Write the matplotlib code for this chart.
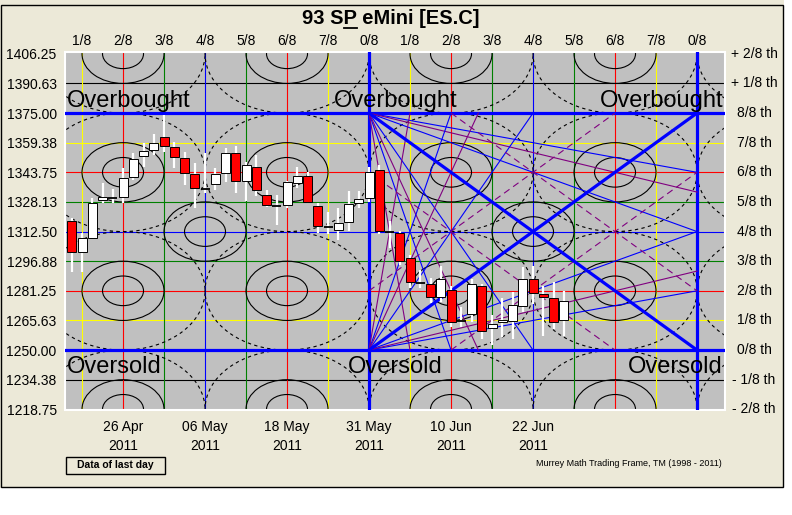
import matplotlib
matplotlib.use("Agg")
import matplotlib.pyplot as plt
from matplotlib.patches import Ellipse, Rectangle
from matplotlib.lines import Line2D

plt.rcParams['font.family'] = ['Liberation Sans', 'DejaVu Sans']

# ---------------- data ----------------
day_index = list(range(-5, 44))
opens = [1318.0, 1301.5, 1309.3, 1329.0, 1330.4, 1330.9, 1341.4, 1352.4, 1355.6, 1362.6,
         1357.3, 1351.5, 1342.8, 1335.0, 1337.7, 1343.3, 1353.8, 1339.0, 1346.8, 1332.0,
         1325.8, 1326.7, 1338.0, 1342.0, 1326.2, 1314.8, 1313.5, 1317.6, 1327.6, 1330.2,
         1345.0, 1312.5, 1312.0, 1298.8, 1285.5, 1284.8, 1277.8, 1281.9, 1265.6, 1268.8,
         1283.8, 1261.6, 1264.7, 1265.6, 1273.1, 1287.5, 1279.6, 1277.7, 1265.8]
highs = [1319.5, 1312.0, 1330.0, 1338.0, 1335.0, 1346.0, 1354.0, 1359.0, 1364.0, 1374.0,
         1360.0, 1354.5, 1348.7, 1354.0, 1346.0, 1356.6, 1357.7, 1349.0, 1353.0, 1334.6,
         1332.0, 1339.0, 1346.6, 1344.0, 1327.7, 1323.0, 1325.0, 1333.7, 1333.7, 1346.6,
         1347.7, 1318.3, 1313.0, 1300.0, 1292.0, 1288.0, 1294.6, 1284.0, 1272.6, 1287.5,
         1284.8, 1268.7, 1277.5, 1280.5, 1293.6, 1294.5, 1283.8, 1286.0, 1280.9]
lows = [1291.0, 1291.0, 1309.0, 1327.7, 1327.5, 1327.7, 1339.8, 1346.6, 1353.0, 1354.7,
        1346.0, 1337.0, 1325.0, 1333.0, 1334.6, 1338.8, 1333.0, 1328.4, 1331.0, 1325.6,
        1316.0, 1325.0, 1335.6, 1327.7, 1312.0, 1311.0, 1308.0, 1312.7, 1325.0, 1328.0,
        1311.0, 1304.0, 1295.0, 1283.0, 1283.0, 1275.0, 1275.2, 1262.0, 1262.0, 1264.7,
        1256.0, 1252.5, 1256.9, 1256.0, 1270.0, 1274.4, 1257.5, 1261.0, 1257.5]
closes = [1301.5, 1309.3, 1327.7, 1330.5, 1330.4, 1340.7, 1350.8, 1355.0, 1359.4, 1357.8,
          1352.0, 1343.3, 1335.4, 1335.0, 1343.0, 1353.8, 1339.0, 1347.7, 1334.2, 1326.7,
          1325.8, 1338.4, 1341.6, 1328.0, 1315.3, 1314.8, 1317.0, 1327.0, 1329.7, 1343.9,
          1312.7, 1312.5, 1297.2, 1285.7, 1285.5, 1277.8, 1287.4, 1264.7, 1265.6, 1284.8,
          1260.3, 1263.9, 1266.1, 1274.0, 1287.5, 1280.2, 1277.8, 1264.6, 1276.0]

date_tick_pos = [0, 8, 16, 24, 32, 40]
date_tick_labels = ["26 Apr\n2011", "06 May\n2011", "18 May\n2011",
                    "31 May\n2011", "10 Jun\n2011", "22 Jun\n2011"]

level_prices = [1406.25, 1390.63, 1375.00, 1359.38, 1343.75, 1328.13, 1312.50,
                1296.88, 1281.25, 1265.63, 1250.00, 1234.38, 1218.75]
level_names = ["+ 2/8 th", "+ 1/8 th", "8/8 th", "7/8 th", "6/8 th", "5/8 th", "4/8 th",
               "3/8 th", "2/8 th", "1/8 th", "0/8 th", "- 1/8 th", "- 2/8 th"]
level_colors = [None, 'black', 'blue', 'yellow', 'red', 'green', 'blue',
                'green', 'red', 'yellow', 'blue', 'black', None]
level_thick = [False, False, True, False, False, False, False,
               False, False, False, True, False, False]

time_lines = [-4, 0, 4, 8, 12, 16, 20, 24, 28, 32, 36, 40, 44, 48, 52, 56]
time_names = ["1/8", "2/8", "3/8", "4/8", "5/8", "6/8", "7/8", "0/8",
              "1/8", "2/8", "3/8", "4/8", "5/8", "6/8", "7/8", "0/8"]
time_colors = ['yellow', 'red', 'green', 'blue', 'green', 'red', 'yellow', 'blue',
               'yellow', 'red', 'green', 'blue', 'green', 'red', 'yellow', 'blue']
time_thick = [False, False, False, False, False, False, False, True,
              False, False, False, False, False, False, False, True]

# Murrey frame geometry
T_UNIT = 4          # trading days per 1/8 of time
P_UNIT = 15.625     # price per 1/8
ring_times = [0, 16, 32, 48, 64]
ring_prices = [1406.25, 1343.75, 1281.25, 1218.75]
mid_ring_times = [8, 40]
mid_ring_price = 1312.5
frame_t0, frame_t1 = 24, 56
frame_p0, frame_p1 = 1250.0, 1375.0
blue_fan_ratios = [1/4, 1/2, 2, 4]
purple_fan_ratios = [1/3, 3, 8]
parallel_offsets = [-2, 2]

# ---------------- figure ----------------
W, H = 792, 515
BEIGE = '#ECE9D8'
fig = plt.figure(figsize=(W/100, H/100), dpi=100, facecolor=BEIGE)

def fx(px):
    return px / W

def fy(py):
    return 1 - py / H

# white margins outside the window frame
fig.patches.append(Rectangle((0, 0), 1, fy(488), transform=fig.transFigure,
                             facecolor='white', edgecolor='none', zorder=-5))
fig.patches.append(Rectangle((fx(784), 0), 1 - fx(784), 1, transform=fig.transFigure,
                             facecolor='white', edgecolor='none', zorder=-5))
fig.patches.append(Rectangle((fx(1), fy(487)), fx(783) - fx(1), fy(5) - fy(487),
                             transform=fig.transFigure, facecolor='none',
                             edgecolor='black', lw=1.0, zorder=-4))

ax = fig.add_axes([fx(65), fy(410), (725 - 65) / W, (410 - 52) / H])
ax.set_zorder(5)
ax.set_facecolor('#C0C0C0')
ax.set_xlim(-5.66, 58.73)
ax.set_ylim(1218.4, 1407.2)
for s in ax.spines.values():
    s.set_color('white')
    s.set_linewidth(1.5)

# grid lines
for p, c, thick in zip(level_prices, level_colors, level_thick):
    if c is None:
        continue
    ax.axhline(p, color=c, lw=2.3 if thick else 0.8, zorder=3 if thick else 2)
for t, c, thick in zip(time_lines, time_colors, time_thick):
    ax.axvline(t, color=c, lw=2.3 if thick else 0.8, zorder=3 if thick else 2)

# ellipses
for t in ring_times:
    for p in ring_prices:
        for r in (0.5, 1.0):
            ax.add_patch(Ellipse((t, p), 2 * r * T_UNIT, 2 * r * P_UNIT, fill=False,
                                 ec='black', lw=0.8, zorder=2.5))
        ax.add_patch(Ellipse((t, p), 4 * T_UNIT, 4 * P_UNIT, fill=False,
                             ec='black', lw=0.8, ls=(0, (3, 3)), zorder=2.5))
for t in mid_ring_times:
    for r in (0.5, 1.0):
        ax.add_patch(Ellipse((t, mid_ring_price), 2 * r * T_UNIT, 2 * r * P_UNIT,
                             fill=False, ec='black', lw=0.8, zorder=2.5))

# fans
span_t = (frame_t1 - frame_t0) / T_UNIT   # 8 units
span_p = (frame_p1 - frame_p0) / P_UNIT   # 8 units

def fan_end(ratio, direction):
    start_p = frame_p1 if direction < 0 else frame_p0
    if ratio * span_t <= span_p:
        et = frame_t1
        ep = start_p + direction * ratio * span_t * P_UNIT
    else:
        et = frame_t0 + span_p / ratio * T_UNIT
        ep = start_p + direction * span_p * P_UNIT
    return (frame_t0, et), (start_p, ep)

for direction in (-1, 1):
    for ratio in blue_fan_ratios:
        xs, ys = fan_end(ratio, direction)
        ax.add_line(Line2D(xs, ys, color='#0000FF', lw=0.8, zorder=3))
    for ratio in purple_fan_ratios:
        xs, ys = fan_end(ratio, direction)
        ax.add_line(Line2D(xs, ys, color='#800080', lw=0.8, zorder=3))
    xs, ys = fan_end(1.0, direction)
    ax.add_line(Line2D(xs, ys, color='#0000FF', lw=2.3, zorder=3.2))

# purple dashed parallels to the main diagonals
for off in parallel_offsets:
    if off > 0:
        xs = (frame_t0, frame_t1 - off * T_UNIT)
        ys = (frame_p0 + off * P_UNIT, frame_p1)
    else:
        xs = (frame_t0 - off * T_UNIT, frame_t1)
        ys = (frame_p0, frame_p1 + off * P_UNIT)
    ax.add_line(Line2D(xs, ys, color='#800080', lw=0.8, ls=(0, (6, 4)), zorder=3))
    if off > 0:
        xs = (frame_t0, frame_t1 - off * T_UNIT)
        ys = (frame_p1 - off * P_UNIT, frame_p0)
    else:
        xs = (frame_t0 - off * T_UNIT, frame_t1)
        ys = (frame_p1, frame_p0 - off * P_UNIT)
    ax.add_line(Line2D(xs, ys, color='#800080', lw=0.8, ls=(0, (6, 4)), zorder=3))

# overbought / oversold labels
ob_kw = dict(fontsize=17, color='black', va='baseline', zorder=4)
ax.text(-5.46, 1378.4, "Overbought", ha='left', **ob_kw)
ax.text(26.6, 1378.4, "Overbought", ha='center', **ob_kw)
ax.text(58.55, 1378.4, "Overbought", ha='right', **ob_kw)
ax.text(-5.46, 1237.9, "Oversold", ha='left', **ob_kw)
ax.text(26.55, 1237.9, "Oversold", ha='center', **ob_kw)
ax.text(58.45, 1237.9, "Oversold", ha='right', **ob_kw)

# candles
BW = 0.88
for i, o, h, l, c in zip(day_index, opens, highs, lows, closes):
    ax.vlines(i, l, h, color='white', lw=1.6, zorder=5)
    if abs(c - o) < 0.3:
        ax.hlines(o, i - BW / 2, i + BW / 2, color='black', lw=1.3, zorder=6)
    else:
        fc = 'white' if c > o else '#FF0000'
        ax.add_patch(Rectangle((i - BW / 2, min(o, c)), BW, abs(c - o), facecolor=fc,
                               edgecolor='black', lw=0.7, zorder=6))

# axes labels
ax.set_yticks(level_prices)
ax.set_yticklabels([f"{p:.2f}" for p in level_prices], fontsize=10)
ax.set_xticks(date_tick_pos)
ax.set_xticklabels(date_tick_labels, fontsize=10, linespacing=1.45)
ax.tick_params(axis='both', length=0)
ax.tick_params(axis='y', pad=6)
ax.tick_params(axis='x', pad=7)

for t, name in zip(time_lines, time_names):
    ax.text(t, 1.031, name, transform=ax.get_xaxis_transform(), ha='center',
            va='center', fontsize=10, clip_on=False)
for p, name in zip(level_prices, level_names):
    ax.text(1.044, p, name, transform=ax.get_yaxis_transform(), ha='center',
            va='center', fontsize=10, clip_on=False)

# title with underlined P
title_kw = dict(fontsize=14.5, fontweight='bold', va='center')
title = fig.text(fx(391), fy(18.5), "93 SP eMini [ES.C]", ha='center', **title_kw)
fig.canvas.draw()
r = fig.canvas.get_renderer()
bb = title.get_window_extent(r)
pre1 = fig.text(0, 0, "93 S", **title_kw)
pre2 = fig.text(0, 0, "93 SP", **title_kw)
w1 = pre1.get_window_extent(r).width
w2 = pre2.get_window_extent(r).width
pre1.remove()
pre2.remove()
ux0 = (bb.x0 + w1 + 0.5) / W
ux1 = (bb.x0 + w2 - 0.5) / W
fig.add_artist(Line2D([ux0, ux1], [fy(28), fy(28)], transform=fig.transFigure,
                      color='black', lw=1.3))

# bottom items
fig.patches.append(Rectangle((fx(66), fy(474)), fx(165) - fx(66), fy(457) - fy(474),
                             transform=fig.transFigure, facecolor=BEIGE,
                             edgecolor='black', lw=1.0, zorder=-3))
fig.text(fx(115.5), fy(465.5), "Data of last day", ha='center', va='center',
         fontsize=7.5, fontweight='bold')
fig.text(fx(722), fy(463), "Murrey Math Trading Frame, TM (1998 - 2011)", ha='right',
         va='center', fontsize=6.5)

fig.savefig("out.png", dpi=100, facecolor=fig.get_facecolor())
